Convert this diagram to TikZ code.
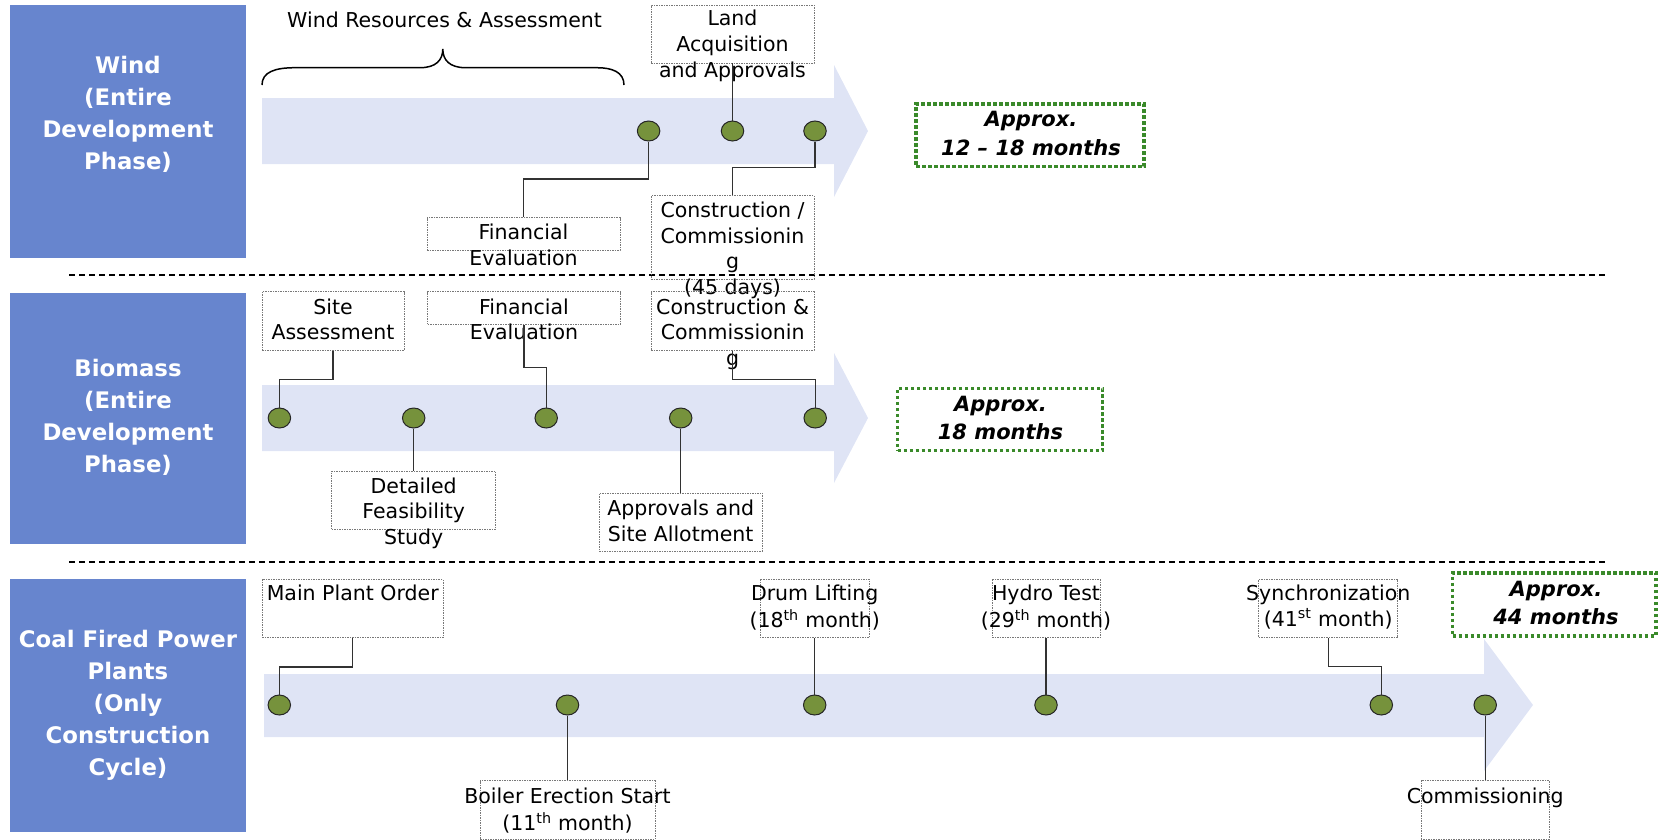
\documentclass[tikz,border=0pt]{standalone}
\usepackage{fontspec}
\setmainfont{DejaVu Sans}
\usetikzlibrary{shapes.geometric}
\definecolor{rowblue}{RGB}{103,133,206}
\definecolor{bandblue}{RGB}{223,228,245}
\definecolor{dotgreen}{RGB}{118,146,60}
\definecolor{apgreen}{RGB}{58,138,42}
\definecolor{boxgray}{RGB}{120,120,120}
\definecolor{lineg}{RGB}{50,50,50}
\begin{document}
\begin{tikzpicture}[x=1pt,y=-1pt,
  rowbox/.style={fill=rowblue,inner sep=0,rectangle},
  rowtxt/.style={text=white,font=\bfseries\fontsize{22.8}{32}\selectfont,align=center,inner sep=0,anchor=north},
  band/.style={fill=bandblue},
  lbox/.style={draw=boxgray,line width=0.9pt,dash pattern=on 1.5pt off 1pt,inner sep=0,rectangle},
  ltxt/.style={font=\fontsize{20.5}{25.6}\selectfont,align=center,inner sep=0,anchor=north},
  dotn/.style={ellipse,fill=dotgreen,draw=black!85,line width=1pt,minimum width=22.5pt,minimum height=20pt,inner sep=0},
  conn/.style={draw=lineg,line width=1.1pt},
  apbox/.style={draw=apgreen,line width=3.5pt,dash pattern=on 3.5pt off 2.5pt,inner sep=0,rectangle},
  aptxt/.style={font=\bfseries\itshape\fontsize{21}{28.5}\selectfont,align=center,inner sep=0,anchor=north},
  sepline/.style={draw=black,line width=1.1pt,dash pattern=on 6pt off 4pt},
  bracel/.style={draw=black,line width=1.5pt}
]
\useasboundingbox (0,0) rectangle (1660,839);

% bands (arrows)
\fill[band] (262,98) -- (834,98) -- (834,65) -- (868,131) -- (834,197) -- (834,164) -- (262,164) -- cycle;
\fill[band] (262,385) -- (834,385) -- (834,353) -- (868,418) -- (834,483) -- (834,451) -- (262,451) -- cycle;
\fill[band] (264,674) -- (1484,674) -- (1484,639) -- (1533,705) -- (1484,771) -- (1484,737) -- (264,737) -- cycle;

% separators
\draw[sepline] (69,275) -- (1606,275);
\draw[sepline] (69,562) -- (1606,562);

% row boxes
\node[rowbox,minimum width=236pt,minimum height=253pt] (wrow) at (128,131.5) {};
\node[rowbox,minimum width=236pt,minimum height=251pt] (brow) at (128,418.5) {};
\node[rowbox,minimum width=236pt,minimum height=253pt] (crow) at (128,705.5) {};
\node[rowtxt] (wrowt) at (128,50.4) {\strut Wind\\(Entire\\Development\\Phase)};
\node[rowtxt] (browt) at (128,354.2) {\strut Biomass\\(Entire\\Development\\Phase)};
\node[rowtxt] (crowt) at (128,625.3) {\strut Coal Fired Power\\Plants\\(Only\\Construction\\Cycle)};

% wind brace
\draw[bracel] (262,85) .. controls (262,72) and (275,67.7) .. (295,67.7) -- (420,67.7) .. controls (436,67.7) and (442.8,60) .. (442.8,49) .. controls (442.8,60) and (449.6,67.7) .. (465.6,67.7) -- (597,67.7) .. controls (612,67.7) and (624,72) .. (624,85);
\node[ltxt,anchor=center] (wra) at (444.6,20) {Wind Resources \& Assessment};

% wind label boxes
\node[lbox,minimum width=163pt,minimum height=58pt] (wland) at (732.5,34) {};
\node[ltxt] (wlandt) at (732.5,7.7) {\strut Land\\Acquisition\\and Approvals};
\node[lbox,minimum width=193pt,minimum height=32.3pt] (wfin) at (523.5,233.9) {};
\node[ltxt] (wfint) at (523.5,221.4) {\strut Financial\\Evaluation};
\node[lbox,minimum width=163pt,minimum height=83.6pt] (wcon) at (732.5,237.5) {};
\node[ltxt] (wcont) at (732.5,199.4) {\strut Construction /\\Commissionin\\g\\(45 days)};

% biomass label boxes
\node[lbox,minimum width=142pt,minimum height=58.3pt] (bsite) at (333,320.9) {};
\node[ltxt] (bsitet) at (333,296.1) {\strut Site\\Assessment};
\node[lbox,minimum width=193pt,minimum height=32.6pt] (bfin) at (524,308) {};
\node[ltxt] (bfint) at (524,296.1) {\strut Financial\\Evaluation};
\node[lbox,minimum width=162.6pt,minimum height=58.3pt] (bcon) at (732.7,320.9) {};
\node[ltxt] (bcont) at (732.7,296.1) {\strut Construction \&\\Commissionin\\g};
\node[lbox,minimum width=163.8pt,minimum height=58.3pt] (bdet) at (413.7,500.2) {};
\node[ltxt] (bdett) at (413.7,475.1) {\strut Detailed\\Feasibility\\Study};
\node[lbox,minimum width=163.4pt,minimum height=57.7pt] (bapp) at (680.7,522.2) {};
\node[ltxt] (bappt) at (680.7,497.7) {\strut Approvals and\\Site Allotment};

% coal label boxes
\node[lbox,minimum width=180.8pt,minimum height=58.4pt] (cmain) at (352.7,608.5) {};
\node[ltxt] (cmaint) at (352.7,582.7) {\strut Main Plant Order};
\node[lbox,minimum width=109.5pt,minimum height=58.4pt] (cdrum) at (814.7,608.5) {};
\node[ltxt] (cdrumt) at (814.7,582.7) {\strut Drum Lifting\\(18\textsuperscript{th} month)};
\node[lbox,minimum width=108pt,minimum height=58.4pt] (chyd) at (1046,608.5) {};
\node[ltxt] (chydt) at (1046,582.7) {\strut Hydro Test\\(29\textsuperscript{th} month)};
\node[lbox,minimum width=139.1pt,minimum height=58.4pt] (csyn) at (1328.2,608.5) {};
\node[ltxt] (csynt) at (1328.2,582.7) {\strut Synchronization\\(41\textsuperscript{st} month)};
\node[lbox,minimum width=175pt,minimum height=58.4pt] (cboil) at (567.5,809.9) {};
\node[ltxt] (cboilt) at (567.5,785.4) {\strut Boiler Erection Start\\(11\textsuperscript{th} month)};
\node[lbox,minimum width=128.5pt,minimum height=58.4pt] (ccom) at (1485.2,809.9) {};
\node[ltxt] (ccomt) at (1485.2,785.4) {\strut Commissioning};

% approx boxes
\node[apbox,minimum width=228pt,minimum height=62.7pt] (wap) at (1030,135.3) {};
\node[aptxt] (wapt) at (1031,106.7) {\strut Approx.\\12 – 18 months};
\node[apbox,minimum width=205pt,minimum height=62.4pt] (bap) at (1000.2,419.5) {};
\node[aptxt] (bapt) at (1000.5,391) {\strut Approx.\\18 months};
\node[apbox,minimum width=203.4pt,minimum height=63.3pt] (cap) at (1554.3,604.4) {};
\node[aptxt] (capt) at (1556,576) {\strut Approx.\\44 months};

% dots
\node[dotn] (w1) at (648.6,131) {};
\node[dotn] (w2) at (732.5,131) {};
\node[dotn] (w3) at (815,131) {};
\node[dotn] (b1) at (279.4,418) {};
\node[dotn] (b2) at (413.7,418) {};
\node[dotn] (b3) at (546.2,418) {};
\node[dotn] (b4) at (680.7,418) {};
\node[dotn] (b5) at (815.2,418) {};
\node[dotn] (c1) at (279.3,705) {};
\node[dotn] (c2) at (567.5,705) {};
\node[dotn] (c3) at (814.7,705) {};
\node[dotn] (c4) at (1046,705) {};
\node[dotn] (c5) at (1381.3,705) {};
\node[dotn] (c6) at (1485.2,705) {};

% connectors wind
\draw[conn] (w1.south) -- (w1.south |- 0,179) -- (wfin.north |- 0,179) -- (wfin.north);
\draw[conn] (wland.south) -- (w2.north);
\draw[conn] (w3.south) -- (w3.south |- 0,167.7) -- (wcon.north |- 0,167.7) -- (wcon.north);
% connectors biomass
\draw[conn] (bsite.south) -- (bsite.south |- 0,379.3) -- (b1.north |- 0,379.3) -- (b1.north);
\draw[conn] (bfin.south) -- (bfin.south |- 0,367.3) -- (b3.north |- 0,367.3) -- (b3.north);
\draw[conn] (bcon.south) -- (bcon.south |- 0,379.3) -- (b5.north |- 0,379.3) -- (b5.north);
\draw[conn] (b2.south) -- (bdet.north);
\draw[conn] (b4.south) -- (bapp.north);
% connectors coal
\draw[conn] (cmain.south) -- (cmain.south |- 0,667) -- (c1.north |- 0,667) -- (c1.north);
\draw[conn] (c2.south) -- (cboil.north);
\draw[conn] (cdrum.south) -- (c3.north);
\draw[conn] (chyd.south) -- (c4.north);
\draw[conn] (csyn.south) -- (csyn.south |- 0,666.7) -- (c5.north |- 0,666.7) -- (c5.north);
\draw[conn] (c6.south) -- (ccom.north);
\end{tikzpicture}
\end{document}
